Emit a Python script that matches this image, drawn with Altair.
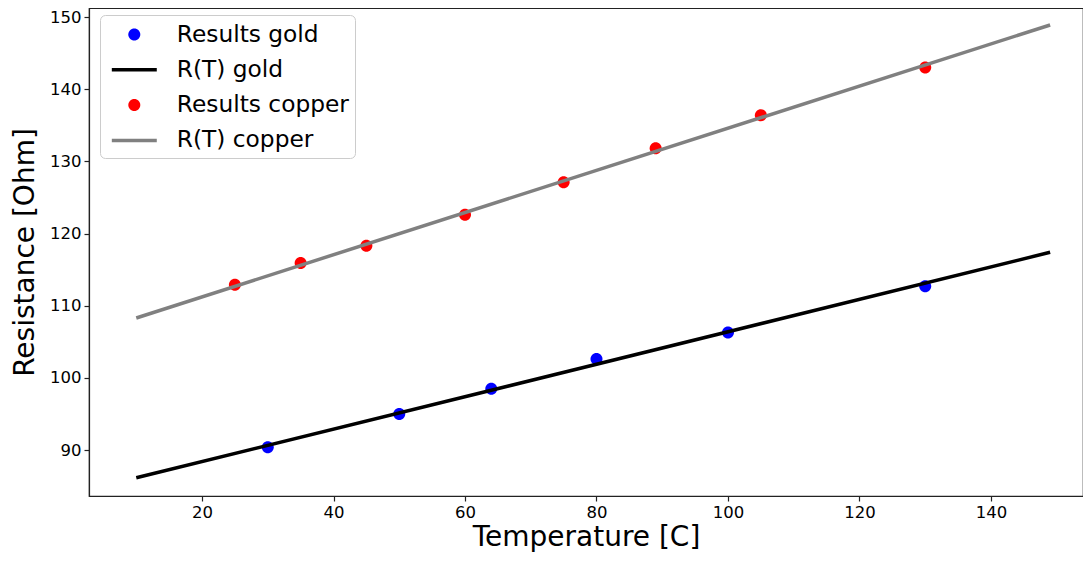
import altair as alt
import pandas as pd

# measured values
gold_T = [30, 50, 64, 80, 100, 130]
gold_R = [90.4, 95.0, 98.5, 102.6, 106.3, 112.7]
copper_T = [25, 35, 45, 60, 75, 89, 105, 130]
copper_R = [112.9, 115.9, 118.3, 122.6, 127.1, 131.8, 136.4, 143.0]
fit_T = [10, 149]
gold_fit_R = [86.15, 117.4]
copper_fit_R = [108.3, 148.9]

series_order = ["Results gold", "R(T) gold", "Results copper", "R(T) copper"]
series_colors = ["#0000ff", "#000000", "#ff0000", "#808080"]
x_ticks = [20, 40, 60, 80, 100, 120, 140]
y_ticks = [90, 100, 110, 120, 130, 140, 150]

# legend / point glyphs (unit square scaled by sqrt(size)/2)
DOT = "M0.454,0A0.454,0.454 0 1,1 -0.454,0A0.454,0.454 0 1,1 0.454,0Z"
BAR = "M-1.7,-0.132H1.7V0.132H-1.7Z"
series_shapes = [DOT, BAR, DOT, BAR]

pts = pd.DataFrame({
    "T": gold_T + copper_T,
    "R": gold_R + copper_R,
    "series": ["Results gold"] * len(gold_T) + ["Results copper"] * len(copper_T),
})
lines = pd.DataFrame({
    "T": fit_T + fit_T,
    "R": gold_fit_R + copper_fit_R,
    "series": ["R(T) gold"] * 2 + ["R(T) copper"] * 2,
})

FONT = "DejaVu Sans"

legend = alt.Legend(
    title=None, orient="none", legendX=11, legendY=7, padding=6,
    symbolSize=700, symbolOffset=14.8, labelOffset=29, rowPadding=10.3,
    labelFontSize=23.3, labelFont=FONT, labelColor="black", labelLimit=400,
    symbolStrokeWidth=0, symbolOpacity=1,
    fillColor="rgba(255,255,255,0.8)", strokeColor="#cccccc", cornerRadius=5,
)

xenc = alt.X("T:Q", title="Temperature [C]",
             scale=alt.Scale(domain=[2.81, 154.0], nice=False, zero=False),
             axis=alt.Axis(values=x_ticks, titlePadding=3))
yenc = alt.Y("R:Q", title="Resistance [Ohm]",
             scale=alt.Scale(domain=[83.63, 151.25], nice=False, zero=False),
             axis=alt.Axis(values=y_ticks, titlePadding=10))
cenc = alt.Color("series:N", scale=alt.Scale(domain=series_order, range=series_colors),
                 legend=legend)
senc = alt.Shape("series:N", scale=alt.Scale(domain=series_order, range=series_shapes),
                 legend=legend)

points = alt.Chart(pts).mark_point(size=700, filled=True, opacity=1, strokeWidth=0).encode(
    x=xenc, y=yenc, color=cenc, shape=senc)
fits = alt.Chart(lines).mark_line(strokeWidth=3.5).encode(x=xenc, y=yenc, color=cenc)

chart = alt.layer(points, fits).properties(
    width=994, height=488,
    autosize=alt.AutoSizeParams(type="none"),
    padding={"left": 81, "top": 0, "right": 0, "bottom": 58},
).configure_view(stroke="#222222", strokeWidth=1.2).configure_axis(
    domainColor="#222222", domainWidth=1.2, tickColor="#222222", tickWidth=1.2,
    tickSize=5, labelFontSize=16.5, labelFont=FONT, labelColor="black",
    labelPadding=3, titleFont=FONT, titleFontSize=28, titleFontWeight="normal",
    titleColor="black", grid=False,
)

chart.save("out.html", embed_options={"renderer": "svg", "actions": False})
